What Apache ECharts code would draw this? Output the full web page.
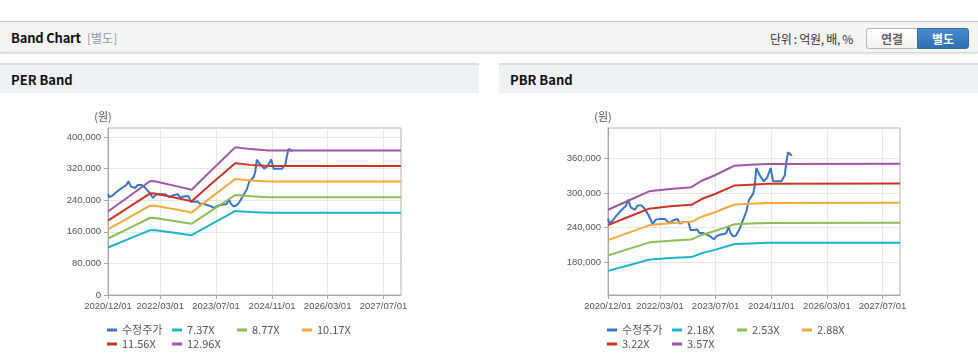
<!DOCTYPE html>
<html>
<head>
<meta charset="utf-8">
<script src="https://cdn.jsdelivr.net/npm/echarts@6/dist/echarts.min.js"></script>
<style>
  html, body { margin: 0; padding: 0; background: #fff; }
  body { width: 978px; height: 364px; position: relative; overflow: hidden; font-family: "Noto Sans CJK KR", "Noto Sans", sans-serif; }
  .topbar { position: absolute; left: 0; top: 21px; width: 978px; height: 30px; background: #f4f4f4; border-top: 1px solid #bcbcbc; border-bottom: 1px solid #d8d8d8; box-shadow: 0 1px 2px rgba(0,0,0,0.12); }
  .title { position: absolute; left: 11px; top: 29px; font-size: 13px; font-weight: bold; color: #111; line-height: 18px; letter-spacing: -0.2px; }
  .sub { position: absolute; left: 87px; top: 29px; font-size: 12px; color: #999; line-height: 18px; }
  .unit { position: absolute; left: 770px; top: 30px; font-size: 12px; color: #333; line-height: 17px; letter-spacing: -0.3px; }
  .btn { position: absolute; top: 28px; height: 19px; width: 50px; font-size: 12px; font-weight: bold; line-height: 19px; text-align: center; }
  .btn1 { left: 866px; background: linear-gradient(#ffffff, #f1f1f1); border: 1px solid #b9b9b9; border-right: none; border-radius: 3px 0 0 3px; color: #666; }
  .btn2 { left: 917px; background: linear-gradient(#4a8ad0, #2f6fb5); border: 1px solid #2e6aad; border-radius: 0 3px 3px 0; color: #fff; }
  .phead { position: absolute; top: 63px; height: 28px; background: #eef1f6; border-top: 2px solid #d9dce0; }
  .phead span { position: absolute; left: 11px; top: 6px; font-size: 13px; font-weight: bold; color: #111; line-height: 18px; }
  .chart { position: absolute; top: 93px; height: 271px; }
</style>
</head>
<body>
<div class="topbar"></div>
<div class="title">Band Chart</div>
<div class="sub">[별도]</div>
<div class="unit">단위 : 억원, 배, %</div>
<div class="btn btn1">연결</div>
<div class="btn btn2">별도</div>
<div class="phead" style="left:0;width:479px;"><span>PER Band</span></div>
<div class="phead" style="left:499px;width:479px;"><span>PBR Band</span></div>
<div id="per" class="chart" style="left:0;width:480px;"></div>
<div id="pbr" class="chart" style="left:500px;width:478px;"></div>
<script>
// ---------- data ----------
const xTickLabels = ['2020/12/01', '2022/03/01', '2023/07/01', '2024/11/01', '2026/03/01', '2027/07/01'];
const xMin = '2020-12-01';
const xMax = '2027-12-01';

const perYTicks = [0, 80000, 160000, 240000, 320000, 400000];
const pbrYTicks = [180000, 240000, 300000, 360000];

// adjusted share price (수정주가)
const priceDates = ['2020-12-01','2020-12-12','2021-01-05','2021-02-18','2021-04-01','2021-05-08','2021-05-28','2021-06-18','2021-07-25','2021-08-15','2021-09-17','2021-10-13','2021-11-20','2021-12-28','2022-01-23','2022-03-01','2022-04-14','2022-05-21','2022-06-25','2022-08-02','2022-08-23','2022-09-27','2022-11-04','2022-11-24','2022-12-23','2023-01-22','2023-02-09','2023-03-13','2023-04-12','2023-05-16','2023-06-15','2023-07-08','2023-08-06','2023-09-10','2023-10-04','2023-10-21','2023-11-08','2023-12-01','2023-12-24','2024-01-23','2024-02-27','2024-03-26','2024-04-18','2024-05-23','2024-06-07','2024-06-21','2024-07-20','2024-08-25','2024-09-23','2024-10-25','2024-11-15','2024-12-19','2025-01-27','2025-02-25','2025-03-10','2025-03-25','2025-04-14','2025-04-28'];
const priceValues = [256000,248000,251000,262000,271000,278000,288000,275000,271000,278000,279000,274000,262000,246000,254000,255000,255000,248000,253000,255000,247000,250000,250000,236000,236000,237000,231000,231000,228000,225000,220000,225000,228000,229000,231000,242000,231000,225000,226000,236000,254000,268000,288000,298000,311000,343000,331000,320000,326000,343000,320000,320000,320000,330000,351000,370000,367000,364000];

// band lines (knots)
const bandDates = ['2020-12-01','2021-06-01','2021-12-01','2022-01-01','2022-06-01','2022-12-01','2023-03-01','2023-07-01','2023-10-01','2023-12-15','2024-05-01','2024-10-01','2027-12-01'];

const perBandNames = ['7.37X', '8.77X', '10.17X', '11.56X', '12.96X'];
const perBand737  = [120300,142000,163900,164400,158800,151600,166400,186100,200600,212800,210200,208300,208300];
const perBand877  = [143100,168900,195000,195700,188900,180400,198000,221400,238700,253200,250100,247800,247800];
const perBand1017 = [166000,195900,226100,226900,219000,209200,229600,256700,276800,293600,290100,287300,287300];
const perBand1156 = [188600,222600,256900,257800,248900,237700,260900,291700,314500,333600,329600,326500,326500];
const perBand1296 = [211400,249500,288000,289000,279000,266500,292500,327000,352600,374000,369500,366000,366000];

const pbrBandNames = ['2.18X', '2.53X', '2.88X', '3.22X', '3.57X'];
const pbrBand218 = [165600,175400,185100,185500,187600,189400,196100,202200,207700,212000,212900,213900,214200];
const pbrBand253 = [192100,203500,214800,215300,217700,219800,227600,234700,241100,246000,247100,248200,248500];
const pbrBand288 = [218700,231600,244500,245000,247700,250200,259000,267100,274400,280000,281200,282500,282900];
const pbrBand322 = [244400,258900,273300,273800,276900,279600,289500,298600,306700,313000,314300,315700,316200];
const pbrBand357 = [271000,287000,303000,303600,307000,310000,321000,331000,340000,347000,348500,350000,350500];

const priceName = '수정주가';
const seriesColors = ['#3874c8', '#1fb4c8', '#8fbd56', '#f4a93b', '#cc3429', '#9a58a5'];

// ---------- helpers ----------
function ts(s) { const p = s.split(/[-\/]/); return new Date(+p[0], +p[1] - 1, +p[2]).getTime(); }
function pairs(dates, values) { return dates.map((d, i) => [ts(d), values[i]]); }
function comma(v) { return String(Math.round(v)).replace(/\B(?=(\d{3})+(?!\d))/g, ','); }
function fmtDate(v) {
  const d = new Date(v);
  const m = d.getMonth() + 1, day = d.getDate();
  return d.getFullYear() + '/' + (m < 10 ? '0' + m : m) + '/' + (day < 10 ? '0' + day : day);
}

function buildOption(cfg) {
  const names = [priceName].concat(cfg.bandNames);
  const series = [{
    name: priceName, type: 'line', data: pairs(priceDates, priceValues),
    showSymbol: false, symbol: 'none', lineStyle: { width: 2, color: seriesColors[0] }, itemStyle: { color: seriesColors[0] }
  }];
  cfg.bands.forEach((vals, i) => {
    series.push({
      name: cfg.bandNames[i], type: 'line', data: pairs(bandDates, vals),
      showSymbol: false, symbol: 'none', lineStyle: { width: 2, color: seriesColors[i + 1] }, itemStyle: { color: seriesColors[i + 1] }
    });
  });
  const cols = [0, 1, 2, 3, 0, 1], rows = [0, 0, 0, 0, 1, 1];
  const legends = names.map((n, i) => ({
    data: [n], left: 107 + cols[i] * 65, top: 230 + rows[i] * 14, padding: 0,
    icon: 'rect', itemWidth: 10, itemHeight: 3, selectedMode: false,
    textStyle: { fontSize: 11, color: '#555', lineHeight: 14, fontFamily: '"Noto Sans CJK KR", sans-serif' }
  }));
  const xCustom = xTickLabels.map(ts);
  return {
    animation: false,
    textStyle: { fontFamily: '"Liberation Sans", Arial, sans-serif' },
    grid: { left: 108, top: 35, width: cfg.gridWidth, height: 167, show: true, borderColor: '#b4b4b4', borderWidth: 1, containLabel: false, outerBoundsMode: 'none' },
    legend: legends,
    xAxis: {
      type: 'value', min: ts(xMin), max: ts(xMax),
      axisLine: { lineStyle: { color: '#a8a8a8' } },
      axisTick: { show: true, length: 4, customValues: xCustom, lineStyle: { color: '#a8a8a8' } },
      axisLabel: { customValues: xCustom, formatter: v => fmtDate(v), fontSize: 9.5, color: '#555', margin: 6, hideOverlap: false },
      splitLine: { show: true, lineStyle: { color: '#e6e6e6' } }
    },
    yAxis: {
      type: 'value', min: cfg.yMin, max: cfg.yMax,
      name: '(원)', nameLocation: 'end', nameGap: 6,
      nameTextStyle: { fontSize: 11, color: '#555', align: 'center', padding: [0, 10, 0, 0], fontFamily: '"Noto Sans CJK KR", sans-serif' },
      axisLine: { show: true, lineStyle: { color: '#a8a8a8' } },
      axisTick: { show: true, length: 4, customValues: cfg.yTicks, lineStyle: { color: '#a8a8a8' } },
      axisLabel: { customValues: cfg.yTicks, formatter: v => comma(v), fontSize: 9.5, color: '#555', margin: 7 },
      splitLine: { show: true, lineStyle: { color: '#e6e6e6' } }
    },
    series: series
  };
}

const perChart = echarts.init(document.getElementById('per'), null, { renderer: 'canvas' });
perChart.setOption(buildOption({
  bandNames: perBandNames,
  bands: [perBand737, perBand877, perBand1017, perBand1156, perBand1296],
  yMin: 0, yMax: 423000, yTicks: perYTicks, gridWidth: 293
}));

const pbrChart = echarts.init(document.getElementById('pbr'), null, { renderer: 'canvas' });
pbrChart.setOption(buildOption({
  bandNames: pbrBandNames,
  bands: [pbrBand218, pbrBand253, pbrBand288, pbrBand322, pbrBand357],
  yMin: 124000, yMax: 412000, yTicks: pbrYTicks, gridWidth: 292
}));
</script>
</body>
</html>
